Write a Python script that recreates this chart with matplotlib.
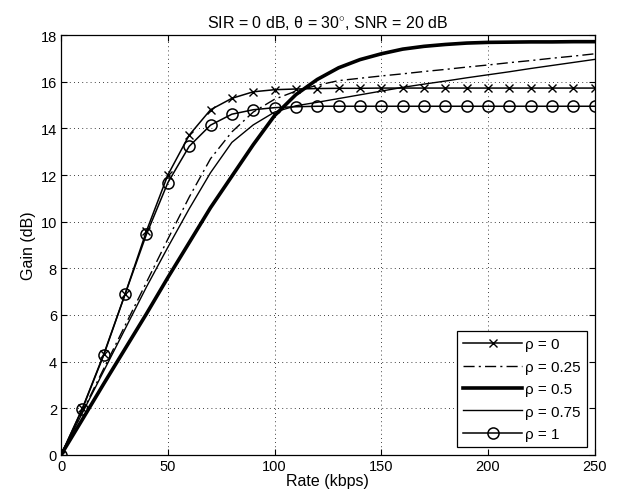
import numpy as np
import matplotlib.pyplot as plt

plt.rcParams['font.family'] = ['Liberation Sans', 'DejaVu Sans']
plt.rcParams['mathtext.fontset'] = 'custom'
plt.rcParams['mathtext.rm'] = 'Liberation Sans'
plt.rcParams['font.size'] = 10.5

rate = np.arange(0, 251, 10)

rho_0 = [0, 2.0, 4.32, 6.9, 9.6, 12.0, 13.71, 14.8, 15.29, 15.57, 15.66, 15.69,
         15.71, 15.72, 15.72, 15.73, 15.73, 15.73, 15.73, 15.73, 15.73, 15.73,
         15.73, 15.73, 15.73, 15.73]
rho_025 = [0, 1.85, 3.7, 5.55, 7.4, 9.25, 11.05, 12.7, 13.85, 14.7, 15.25, 15.6,
           15.85, 16.05, 16.15, 16.25, 16.34, 16.44, 16.53, 16.63, 16.72, 16.82,
           16.91, 17.01, 17.1, 17.2]
rho_05 = [0, 1.52, 3.05, 4.55, 6.05, 7.6, 9.1, 10.6, 11.95, 13.3, 14.55, 15.45,
          16.1, 16.6, 16.95, 17.2, 17.4, 17.52, 17.6, 17.66, 17.69, 17.7,
          17.71, 17.71, 17.72, 17.72]
rho_075 = [0, 1.8, 3.6, 5.4, 7.2, 8.9, 10.55, 12.1, 13.4, 14.15, 14.7, 14.97,
           15.12, 15.28, 15.44, 15.6, 15.76, 15.9, 16.03, 16.17, 16.3, 16.43,
           16.57, 16.7, 16.83, 16.96]
rho_1 = [0, 1.97, 4.28, 6.89, 9.46, 11.67, 13.23, 14.14, 14.61, 14.8, 14.89, 14.93,
         14.95, 14.95, 14.95, 14.95, 14.95, 14.95, 14.95, 14.95, 14.95, 14.95,
         14.95, 14.95, 14.95, 14.95]

fig = plt.figure(figsize=(6.17, 5.02), dpi=100)
ax = fig.add_axes([0.099, 0.092, 0.865, 0.836])

ax.plot(rate, rho_0, color='k', lw=1.1, marker='x', ms=5.5, mew=1.0, label=r'ρ = 0')
ax.plot(rate, rho_025, color='k', lw=1.0, ls=(0, (8, 3, 1.5, 3)), label=r'ρ = 0.25')
ax.plot(rate, rho_05, color='k', lw=2.6, label=r'ρ = 0.5')
ax.plot(rate, rho_075, color='k', lw=1.0, label=r'ρ = 0.75')
ax.plot(rate, rho_1, color='k', lw=1.1, marker='o', ms=8, mfc='none', mew=1.1,
        label=r'ρ = 1')

ax.set_xlim(0, 250)
ax.set_ylim(0, 18)
ax.set_xticks(np.arange(0, 251, 50))
ax.set_yticks(np.arange(0, 19, 2))
ax.grid(True, color='k', ls=(0, (1, 4)), lw=0.6)
ax.tick_params(direction='in', top=True, right=True, length=4, pad=3, labelsize=10.5)
for s in ax.spines.values():
    s.set_linewidth(0.9)

ax.set_xlabel('Rate (kbps)', fontsize=11.5, labelpad=0)
ax.set_ylabel('Gain (dB)', fontsize=11.5, labelpad=3)
ax.set_title(r'SIR = 0 dB, θ = 30$^{\circ}$, SNR = 20 dB', fontsize=11.5, pad=6)

leg = ax.legend(loc='lower right', fancybox=False, framealpha=1, edgecolor='k',
                handlelength=3.9, borderaxespad=0.5, labelspacing=0.55,
                handletextpad=0.2, borderpad=0.4, fontsize=11)
leg.get_frame().set_linewidth(0.9)

plt.savefig('out.png', dpi=100)
